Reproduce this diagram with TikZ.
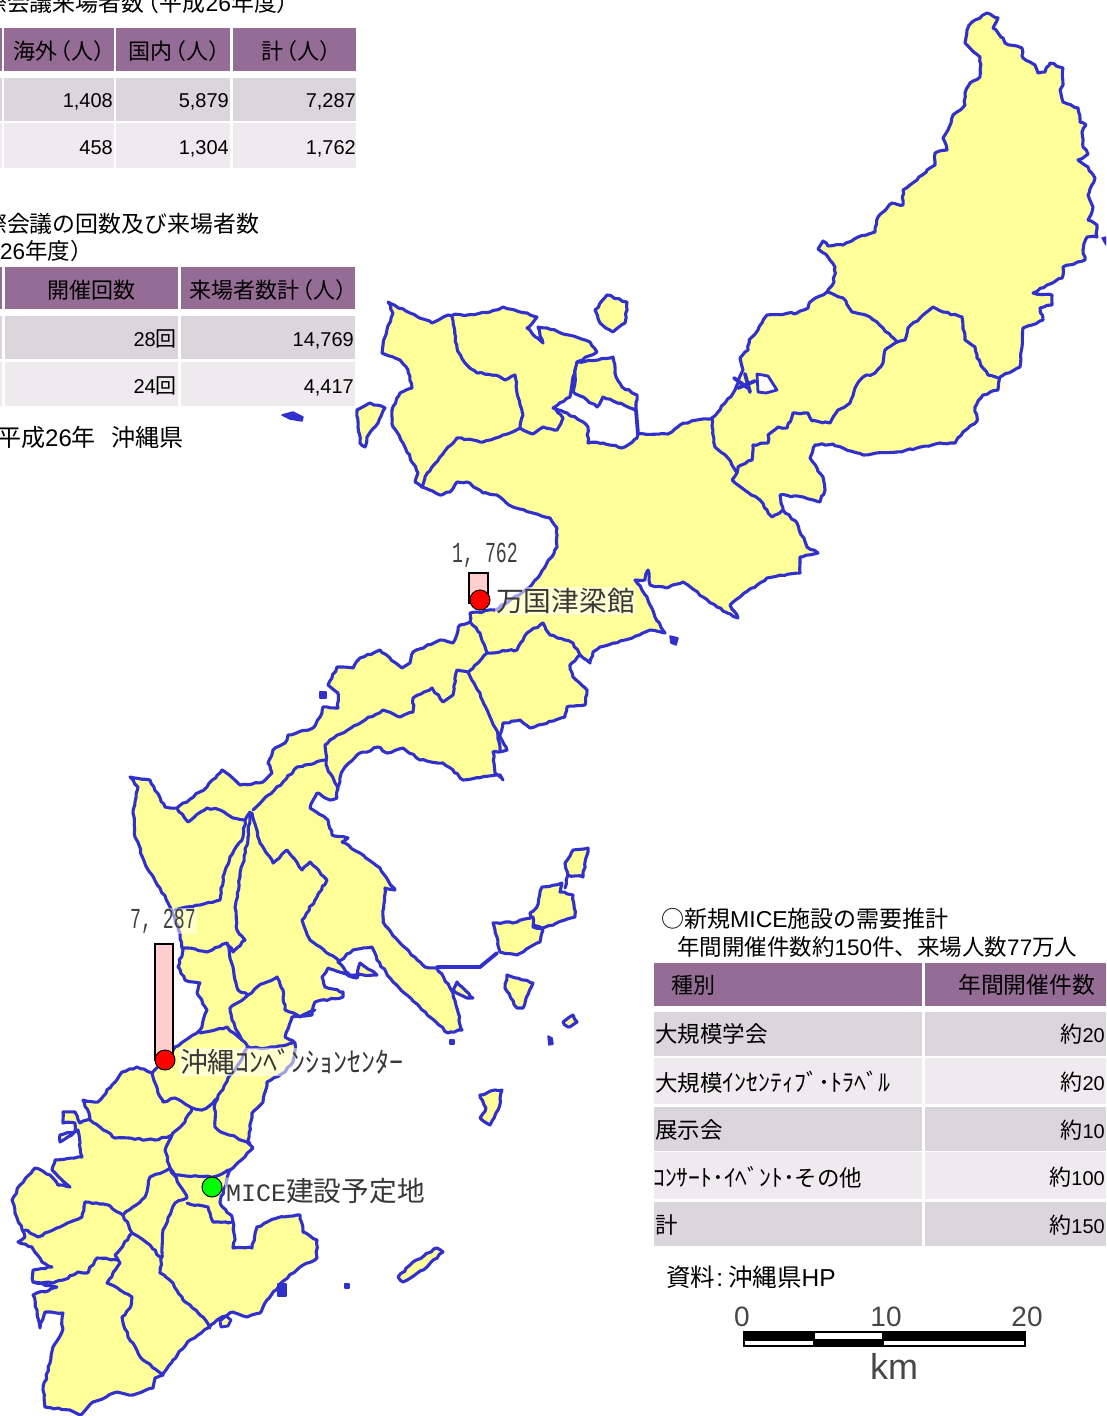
\documentclass[tikz,border=0pt]{standalone}
\usepackage{fontspec}
\setmainfont{Noto Sans CJK JP}
\newfontfamily\latin{Liberation Sans}
\newfontfamily\mono{Liberation Mono}
\usetikzlibrary{decorations.pathmorphing}
\definecolor{hdr}{HTML}{956C95}
\definecolor{rowa}{HTML}{DBD5DD}
\definecolor{rowb}{HTML}{EEEAEE}
\definecolor{mapy}{HTML}{FFFF99}
\definecolor{mapb}{HTML}{3030CC}
\definecolor{barp}{HTML}{FFCFCF}
\newcommand\lt[1]{{\latin #1}}
\newcommand\lp{\kern-.33em（}
\newcommand\cellbox[5]{\fill[#5] (#1,#2) rectangle (#3,#4);}
\newcommand\fs[1]{\fontsize{#1}{#1}\selectfont}
\tikzset{
  coast/.style={draw=mapb,fill=mapy,line width=3.1pt,line join=round,decorate,decoration={random steps,segment length=4pt,amplitude=.9pt}},
  bline/.style={draw=mapb,line width=3.1pt,line join=round,line cap=round,decorate,decoration={random steps,segment length=4pt,amplitude=.9pt}},
  thick blue/.style={draw=mapb,line width=3.8pt,line cap=round},
  hole/.style={draw=mapb,fill=white,line width=2.8pt,line join=round},
  blob/.style={fill=mapb,draw=mapb,line width=1.5pt,line join=round},
  headt/.style={inner sep=0pt,anchor=west,text=black,font=\fs{22}},
  numt/.style={inner sep=0pt,anchor=base east,text=black,font=\latin\fs{20}},
  jpt/.style={inner sep=0pt,anchor=west,text=black,font=\fs{22.5}},
  maplab/.style={inner sep=1pt,anchor=west,text=black!78,fill=white,fill opacity=.55,text opacity=1,rounded corners=3pt,font=\fs{27.7}},
  bartxt/.style={inner sep=1pt,text=black!75,fill=white,fill opacity=.5,text opacity=1,xscale=.63,font=\mono\fs{29}},
  barbox/.style={draw=black,fill=barp,line width=1.4pt},
  dot/.style={draw=black,line width=1pt,circle,minimum size=20pt,inner sep=0pt},
  scalet/.style={inner sep=0pt,text=black!72,font=\latin\fs{28}}
}
\begin{document}
\begin{tikzpicture}[x=1pt,y=-1pt]
\useasboundingbox (0,0) rectangle (1106,1416);
\clip (0,0) rectangle (1106,1416);
\fill[white] (0,0) rectangle (1106,1416);

% ---- table 1
\cellbox{0}{28}{2}{71}{hdr}\cellbox{4}{28}{113.5}{71}{hdr}\cellbox{116}{28}{230}{71}{hdr}\cellbox{233}{28}{356}{71}{hdr}
\cellbox{0}{78}{2}{121}{rowa}\cellbox{4}{78}{113.5}{121}{rowa}\cellbox{116}{78}{230}{121}{rowa}\cellbox{233}{78}{356}{121}{rowa}
\cellbox{0}{123}{2}{168}{rowb}\cellbox{4}{123}{113.5}{168}{rowb}\cellbox{116}{123}{230}{168}{rowb}\cellbox{233}{123}{356}{168}{rowb}
\node[jpt,font=\fs{22.9}] (ta) at (-16,3) {際会議来場者数\lp 平成\lt{26}年度）};
\node[headt] (ta1) at (13,51) {海外\lp 人）};
\node[headt] (ta2) at (128,51) {国内\lp 人）};
\node[headt] (ta3) at (261,51) {計\lp 人）};
\node[numt] (a11) at (113,107) {1,408};
\node[numt] (a12) at (229,107) {5,879};
\node[numt] (a13) at (356,107) {7,287};
\node[numt] (a21) at (113,154.5) {458};
\node[numt] (a22) at (229,154.5) {1,304};
\node[numt] (a23) at (356,154.5) {1,762};

% ---- table 2
\cellbox{0}{267}{2}{309}{hdr}\cellbox{5}{267}{178}{309}{hdr}\cellbox{181}{267}{355}{309}{hdr}
\cellbox{0}{316}{2}{359}{rowa}\cellbox{5}{316}{178}{359}{rowa}\cellbox{181}{316}{355}{359}{rowa}
\cellbox{0}{362}{2}{406}{rowb}\cellbox{5}{362}{178}{406}{rowb}\cellbox{181}{362}{355}{406}{rowb}
\node[jpt,font=\fs{22.9}] (tb) at (-16,224) {際会議の回数及び来場者数};
\node[jpt] (tb2) at (0,251) {\lt{26}年度）};
\node[headt] (tb3) at (47,290) {開催回数};
\node[headt] (tb4) at (189,290) {来場者数計\lp 人）};
\node[numt] (b11) at (177,346) {\lt{28}{\rmfamily\fs{21}回}};
\node[numt] (b12) at (354,346) {14,769};
\node[numt] (b21) at (177,393) {\lt{24}{\rmfamily\fs{21}回}};
\node[numt] (b22) at (354,393) {4,417};
\node[jpt,font=\fs{24}] (src1) at (-3,437) {平成\lt{26}年\hspace*{16pt}沖縄県};

% ---- main island
\path[coast] (987,13)--(998,18)--(993,28)--(1003,38)--(1005,43)--(1022,48)--(1023,58)--(1035,65)--(1038,73)--(1045,72)--(1050,63)--(1063,68)--(1063,85)--(1060,90)--(1063,102)--(1078,108)--(1080,122)--(1086,125)--(1082,132)--(1083,147)--(1088,154)--(1078,160)--(1088,167)--(1095,178)--(1088,195)--(1093,207)--(1088,220)--(1097,225)--(1097,237)--(1087,237)--(1083,250)--(1085,260)--(1063,267)--(1062,278)--(1047,285)--(1033,293)--(1052,295)--(1052,305)--(1040,308)--(1043,320)--(1023,328)--(1022,347)--(1020,367)--(1000,377)--(998,390)--(983,395)--(975,407)--(977,421)--(963,432)--(955,443)--(940,443)--(917,448)--(897,452)--(863,455)--(843,448)--(833,444)--(815,445)--(810,458)--(823,477)--(825,490)--(820,502)--(803,497)--(780,495)--(783,510)--(797,523)--(807,547)--(818,553)--(800,557)--(800,573)--(767,578)--(740,597)--(730,605)--(738,618)--(717,607)--(703,597)--(683,582)--(667,588)--(650,585)--(648,570)--(645,580)--(635,580)--(647,597)--(655,617)--(665,633)--(650,630)--(625,640)--(600,647)--(593,652)--(590,663)--(580,655)--(570,665)--(573,677)--(587,690)--(585,705)--(567,707)--(565,717)--(530,728)--(520,720)--(503,723)--(500,737)--(507,750)--(493,752)--(495,773)--(503,780)--(500,775)--(463,780)--(453,770)--(443,763)--(420,760)--(403,748)--(387,753)--(378,747)--(357,755)--(343,770)--(338,787)--(337,798)--(330,800)--(317,793)--(310,808)--(328,820)--(332,835)--(348,838)--(342,842)--(360,853)--(380,868)--(395,890)--(385,888)--(383,922)--(400,943)--(425,967)--(437,968)--(453,993)--(462,1030)--(448,1033)--(437,1023)--(393,982)--(377,960)--(372,947)--(353,950)--(338,962)--(350,975)--(377,975)--(360,963)--(357,978)--(328,968)--(322,977)--(325,987)--(343,992)--(343,997)--(315,1002)--(312,1015)--(292,1017)--(285,1037)--(295,1043)--(293,1062)--(285,1072)--(267,1082)--(263,1102)--(252,1113)--(248,1143)--(253,1148)--(233,1168)--(230,1170)--(220,1203)--(232,1217)--(235,1240)--(233,1248)--(252,1248)--(257,1227)--(277,1218)--(300,1215)--(303,1232)--(317,1240)--(317,1258)--(300,1267)--(282,1282)--(267,1300)--(260,1313)--(247,1317)--(233,1312)--(217,1320)--(208,1328)--(190,1340)--(173,1360)--(163,1375)--(155,1378)--(153,1388)--(133,1395)--(117,1392)--(93,1402)--(80,1415)--(70,1410)--(45,1407)--(43,1390)--(50,1363)--(53,1347)--(62,1332)--(63,1313)--(45,1312)--(40,1328)--(37,1310)--(33,1295)--(57,1287)--(33,1282)--(33,1270)--(52,1267)--(42,1262)--(32,1247)--(18,1242)--(25,1237)--(15,1213)--(12,1200)--(20,1185)--(35,1168)--(50,1175)--(58,1185)--(70,1187)--(52,1170)--(55,1160)--(82,1157)--(80,1143)--(78,1130)--(60,1142)--(60,1135)--(75,1132)--(75,1123)--(63,1123)--(63,1112)--(75,1112)--(80,1123)--(90,1118)--(83,1100)--(98,1102)--(112,1085)--(122,1072)--(137,1067)--(152,1073)--(165,1060)--(175,1047)--(190,1037)--(200,1030)--(207,1010)--(197,993)--(200,983)--(185,980)--(178,967)--(183,950)--(180,933)--(170,907)--(160,888)--(147,868)--(135,837)--(133,813)--(138,787)--(130,777)--(150,780)--(165,807)--(177,808)--(207,787)--(222,770)--(240,785)--(263,782)--(272,773)--(268,763)--(273,750)--(285,743)--(288,735)--(313,728)--(320,717)--(323,707)--(338,708)--(338,693)--(328,685)--(337,667)--(353,668)--(360,658)--(380,650)--(402,668)--(410,663)--(413,652)--(440,640)--(453,643)--(460,625)--(470,622)--(470,613)--(495,610)--(530,587)--(545,567)--(557,547)--(557,528)--(550,518)--(513,507)--(497,495)--(483,493)--(467,482)--(457,482)--(450,492)--(440,495)--(422,487)--(415,482)--(418,473)--(403,443)--(393,427)--(392,410)--(400,393)--(412,388)--(408,370)--(400,360)--(382,353)--(385,337)--(393,313)--(388,302)--(410,313)--(432,323)--(448,315)--(467,315)--(490,312)--(503,307)--(527,313)--(537,317)--(527,328)--(543,343)--(538,327)--(547,328)--(590,342)--(597,352)--(577,362)--(573,377)--(570,397)--(553,408)--(567,413)--(583,422)--(588,427)--(588,443)--(603,443)--(622,448)--(637,438)--(638,434)--(668,434)--(680,425)--(697,420)--(712,418)--(725,403)--(735,390)--(743,370)--(740,358)--(748,350)--(749,340)--(758,330)--(767,315)--(797,313)--(808,308)--(810,302)--(827,292)--(834,282)--(835,267)--(828,257)--(818,249)--(823,241)--(828,246)--(843,245)--(858,237)--(875,232)--(878,217)--(892,203)--(903,205)--(903,190)--(917,180)--(927,170)--(935,165)--(935,153)--(947,150)--(943,138)--(948,130)--(953,115)--(965,105)--(965,93)--(970,83)--(980,77)--(980,57)--(965,43)--(967,30)--(972,22)--cycle;

% ---- internal boundaries
\path[bline] (827,292)--(843,298)--(852,312)--(870,317)--(883,328)--(897,342);
\path[bline] (897,342)--(905,340)--(908,328)--(920,318)--(933,307)--(943,312)--(962,317)--(965,340)--(975,347)--(977,358)--(988,375)--(998,378);
\path[bline] (897,342)--(885,350)--(883,363)--(875,373)--(863,377)--(855,388)--(850,403)--(838,410)--(830,423)--(812,421)--(808,413)--(793,413)--(787,428)--(778,427)--(768,435)--(768,443)--(753,445)--(752,460)--(738,467)--(737,473);
\path[bline] (712,418)--(715,447)--(728,458)--(737,473)--(732,480)--(742,488)--(760,500)--(772,517)--(783,510);
\path[bline] (452,317)--(457,348)--(465,363)--(477,373)--(495,375)--(505,380)--(515,375)--(518,397)--(523,415)--(520,428);
\path[bline] (422,487)--(425,477)--(440,457)--(457,438)--(483,442)--(503,435)--(520,428)--(533,434)--(543,427)--(557,430)--(563,418)--(555,408);
\path[bline] (470,622)--(480,633)--(487,653)--(478,663)--(468,672)--(480,693)--(490,717)--(498,735)--(500,750);
\path[bline] (487,653)--(517,650)--(527,633)--(543,623)--(550,635)--(573,643)--(580,655);
\path[bline] (468,672)--(457,670)--(453,695)--(443,702)--(432,688)--(413,698)--(413,712)--(400,717)--(383,710)--(365,720)--(330,740)--(325,745)--(327,767)--(335,783)--(338,790);
\path[bline] (325,760)--(297,767)--(283,782)--(253,810);
\path[bline] (177,808)--(188,822)--(207,808)--(220,810)--(233,818)--(245,820)--(250,812);
\path[bline] (245,820)--(243,837)--(230,857)--(223,877)--(220,900)--(200,905)--(175,910);
\path[bline] (250,815)--(248,837)--(240,877)--(235,907)--(237,930)--(245,940)--(233,952)--(227,943)--(207,952)--(188,948)--(183,948);
\path[bline] (252,813)--(260,843)--(273,863)--(287,850)--(302,870)--(310,862)--(327,880)--(317,897)--(302,920)--(310,940)--(340,962);
\path[bline] (227,943)--(233,967)--(238,990)--(248,995)--(257,987)--(277,977)--(283,990)--(285,1010)--(300,1017)--(315,1010);
\path[bline] (248,995)--(230,1008)--(232,1020)--(242,1040)--(248,1047)--(267,1048)--(293,1043);
\path[bline] (200,1033)--(227,1027)--(242,1040);
\path[bline] (248,1047)--(240,1062)--(228,1078)--(215,1103)--(215,1127)--(218,1130)--(250,1143);
\path[bline] (152,1073)--(158,1093)--(163,1102)--(175,1098)--(192,1108)--(202,1110)--(213,1103)--(218,1098);
\path[bline] (192,1108)--(185,1122)--(172,1135);
\path[bline] (90,1120)--(115,1138)--(155,1140)--(172,1135)--(165,1150)--(170,1168)--(175,1175)--(213,1177)--(230,1170);
\path[bline] (170,1168)--(150,1177)--(145,1197)--(123,1215)--(108,1205)--(85,1202)--(82,1217)--(60,1227)--(38,1237)--(25,1230);
\path[bline] (170,1168)--(187,1198)--(175,1203)--(163,1230)--(162,1252)--(160,1273)--(173,1283)--(183,1300)--(203,1317)--(210,1328);
\path[bline] (187,1203)--(208,1207)--(213,1222)--(232,1222);
\path[bline] (123,1215)--(132,1233)--(150,1245)--(160,1257);
\path[bline] (132,1233)--(115,1255)--(120,1263)--(107,1283)--(132,1297)--(130,1308)--(122,1317)--(128,1337)--(143,1360)--(163,1375);
\path[bline] (118,1260)--(97,1258)--(87,1273)--(78,1272)--(63,1280)--(53,1283)--(33,1282);

% ---- lagoon and Yagaji
\path[coast] (577,362)--(598,360)--(613,357)--(615,373)--(622,387)--(637,395)--(636,410)--(603,397)--(597,407)--(587,400)--(573,392)--cycle;
\draw[thick blue] (636,410)--(638,434);
\path[hole] (757,374)--(768,376)--(777,390)--(766,393)--(758,392)--cycle;
\draw[thick blue] (734,378)--(748,388);
\draw[thick blue] (745,374)--(750,392);
\draw[thick blue] (738,388)--(755,381);

% ---- islands
\path[coast] (607,295)--(627,302)--(625,323)--(613,332)--(600,323)--(595,310)--cycle;
\path[coast] (357,410)--(370,403)--(385,408)--(378,423)--(367,437)--(365,447)--(360,443)--(358,427)--cycle;
\path[blob] (282,415)--(293,412)--(303,417)--(302,421)--(290,419)--cycle;
\path[blob] (1102,238)--(1106,237)--(1106,245)--cycle;
\path[blob] (670,636)--(678,638)--(676,645)--(671,643)--cycle;
\path[blob] (320,692)--(326,692)--(326,698)--(320,698)--cycle;
\path[coast] (573,850)--(588,848)--(583,877)--(568,875)--(565,863)--cycle;
\path[coast] (542,887)--(562,883)--(560,892)--(573,895)--(575,917)--(542,928)--(533,925)--(530,913)--(537,907)--cycle;
\path[coast] (493,923)--(517,922)--(533,917)--(533,927)--(543,930)--(540,942)--(517,955)--(500,952)--(497,937)--cycle;
\draw[thick blue] (437,967)--(480,967)--(497,953);
\draw[bline] (565,888)--(568,875);
\path[coast] (457,982)--(473,998)--(467,998)--(453,990)--cycle;
\path[coast] (507,975)--(533,983)--(523,1008)--(517,1008)--(505,988)--cycle;
\path[coast] (563,1022)--(573,1015)--(577,1022)--(568,1027)--cycle;
\path[blob] (548,1036)--(552,1038)--(553,1044)--(549,1045)--cycle;
\path[blob] (450,1040)--(454,1040)--(454,1044)--(450,1044)--cycle;
\path[coast] (480,1095)--(495,1090)--(502,1090)--(498,1110)--(490,1125)--(480,1118)--(486,1108)--cycle;
\path[coast] (398,1277)--(413,1262)--(437,1248)--(443,1252)--(427,1267)--(403,1282)--cycle;
\path[blob] (345,1284)--(349,1284)--(349,1288)--(345,1288)--cycle;
\path[blob] (278,1284)--(286,1284)--(286,1296)--(278,1296)--cycle;
\path[hole,fill=mapy] (220,1321)--(226,1316)--(231,1320)--(228,1326)--(221,1327)--cycle;

% ---- venue bars, markers, labels
\node[bartxt] (v1) at (485,555) {1, 762};
\draw[barbox] (469,573) rectangle (488,603);
\node[maplab] (n1) at (495,601) {万国津梁館};
\node[dot,fill=red] (d1) at (480,600) {};
\node[bartxt] (v2) at (163,921) {7, 287};
\draw[barbox] (155,944) rectangle (173,1060);
\node[maplab] (n2) at (179,1062) {沖縄{\fs{28}ｺﾝﾍﾞﾝｼｮﾝｾﾝﾀｰ}};
\node[dot,fill=red] (d2) at (165,1060) {};
\node[maplab] (n3) at (225,1191) {{\mono\fs{25}MICE}建設予定地};
\node[dot,fill=green] (d3) at (212,1187) {};

% ---- right table
\node[jpt,font=\fs{23}] (rt1) at (661,919) {○新規\lt{MICE}施設の需要推計};
\node[jpt] (rt2) at (677,947) {年間開催件数約\lt{150}件、来場人数\lt{77}万人};
\cellbox{654}{963}{922}{1006}{hdr}\cellbox{924.5}{963}{1106}{1006}{hdr}
\cellbox{654}{1012}{922}{1056}{rowa}\cellbox{924.5}{1012}{1106}{1056}{rowa}
\cellbox{654}{1058}{922}{1104}{rowb}\cellbox{924.5}{1058}{1106}{1104}{rowb}
\cellbox{654}{1107}{922}{1151}{rowa}\cellbox{924.5}{1107}{1106}{1151}{rowa}
\cellbox{654}{1152}{922}{1199}{rowb}\cellbox{924.5}{1152}{1106}{1199}{rowb}
\cellbox{654}{1202}{922}{1246}{rowa}\cellbox{924.5}{1202}{1106}{1246}{rowa}
\node[headt] (rh1) at (671,985) {種別};
\node[headt,font=\fs{22.8}] (rh2) at (958,985) {年間開催件数};
\node[jpt] (r1) at (655,1034) {大規模学会};
\node[jpt] (r2) at (655,1082) {大規模{\fs{24}ｲﾝｾﾝﾃｨﾌﾞ･ﾄﾗﾍﾞﾙ}};
\node[jpt] (r3) at (655,1130) {展示会};
\node[jpt] (r4) at (653,1177) {{\fs{23.6}ｺﾝｻｰﾄ･ｲﾍﾞﾝﾄ･}その他};
\node[jpt] (r5) at (655,1225) {計};
\node[numt] (v11) at (1105,1042) {{\rmfamily\fs{22}約}20};
\node[numt] (v12) at (1105,1090) {{\rmfamily\fs{22}約}20};
\node[numt] (v13) at (1105,1138) {{\rmfamily\fs{22}約}10};
\node[numt] (v14) at (1105,1185) {{\rmfamily\fs{22}約}100};
\node[numt] (v15) at (1105,1233) {{\rmfamily\fs{22}約}150};
\node[jpt,font=\fs{24.5}] (src2) at (666,1277) {資料\kern.05em{\latin:}\kern.2em沖縄県\lt{HP}};

% ---- scale bar
\node[scalet] (s0) at (742,1317) {0};
\node[scalet] (s10) at (886,1317) {10};
\node[scalet] (s20) at (1027,1317) {20};
\node[scalet,font=\latin\fs{36}] (skm) at (894,1366) {km};
\fill[black] (743,1331) rectangle (1026,1347);
\fill[white] (815,1332.5) rectangle (882,1338.5);
\fill[white] (745,1341) rectangle (813,1345);
\fill[white] (884,1341) rectangle (1024,1345);
\end{tikzpicture}
\end{document}
